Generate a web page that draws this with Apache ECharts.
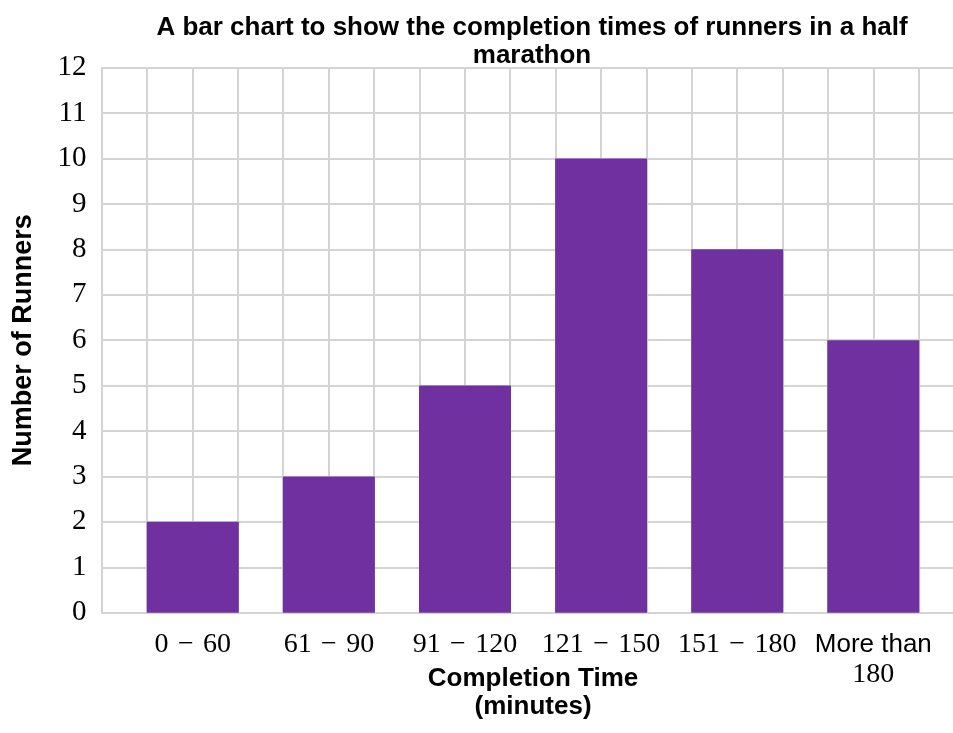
<!DOCTYPE html>
<html>
<head>
<meta charset="utf-8">
<script src="https://cdn.jsdelivr.net/npm/echarts@6/dist/echarts.min.js"></script>
<style>
  html, body { margin: 0; padding: 0; background: #ffffff; }
  #chart { width: 953px; height: 733px; }
</style>
</head>
<body>
<div id="chart"></div>
<script>
// Completion-time groups (minutes) and number of runners in each
const categories = ['0\u2004\u2212\u200460', '61\u2004\u2212\u200490', '91\u2004\u2212\u2004120',
                    '121\u2004\u2212\u2004150', '151\u2004\u2212\u2004180', 'More than 180'];
const runners = [2, 3, 5, 10, 8, 6];
const yTicks = [0, 12, 1]; // min, max, interval

const GRID_TOP = 67.7;
const GRID_H = 545;
const gridColor = '#d4d4d4';
const serif = 'Liberation Serif, Times New Roman, serif';
const sans = 'Liberation Sans, Arial, sans-serif';

const chart = echarts.init(document.getElementById('chart'), null, { renderer: 'canvas' });

chart.setOption({
  backgroundColor: '#ffffff',
  animation: false,
  title: {
    text: 'A bar chart to show the completion times of runners in a half\nmarathon',
    left: 527, top: 9, textAlign: 'center',
    textStyle: { fontFamily: sans, fontWeight: 'bold', fontSize: 26, color: '#000', lineHeight: 28 }
  },
  grid: [
    // square background grid, running past the right edge (20 cells of 45.4px)
    { left: 101.5, top: GRID_TOP, width: 908, height: GRID_H, outerBoundsMode: 'none', containLabel: false },
    // bar grid
    { left: 124.75, top: GRID_TOP, width: 816.6, height: GRID_H, outerBoundsMode: 'none', containLabel: false }
  ],
  xAxis: [
    {
      type: 'value', gridIndex: 0, min: 0, max: 20, interval: 1,
      axisLine: { show: false }, axisTick: { show: false }, axisLabel: { show: false },
      splitLine: { show: true, lineStyle: { color: gridColor, width: 2 } }
    },
    {
      type: 'category', gridIndex: 1, data: categories,
      axisLine: { show: false }, axisTick: { show: false },
      axisLabel: {
        interval: 0,
        margin: 17, color: '#000', fontFamily: serif, fontSize: 28, lineHeight: 30,
        formatter: function (v) {
          if (v === 'More than 180') return '{s|More than}\n{d|180}';
          return v;
        },
        rich: {
          s: { fontFamily: sans, fontSize: 26, color: '#000', lineHeight: 30 },
          d: { fontFamily: serif, fontSize: 28, color: '#000', lineHeight: 30 }
        }
      },
      name: 'Completion Time\n(minutes)',
      nameLocation: 'middle', nameGap: 52, nameMoveOverlap: false,
      nameTextStyle: { fontFamily: sans, fontWeight: 'bold', fontSize: 26, color: '#000', lineHeight: 28 }
    }
  ],
  yAxis: [
    {
      type: 'value', gridIndex: 0, min: yTicks[0], max: yTicks[1], interval: yTicks[2],
      axisLine: { show: true, lineStyle: { color: gridColor, width: 2 } },
      axisTick: { show: false },
      axisLabel: { margin: 15, color: '#000', fontFamily: serif, fontSize: 29, padding: [6, 0, 0, 0] },
      splitLine: { show: true, lineStyle: { color: gridColor, width: 2 } },
      name: 'Number of Runners', nameLocation: 'middle', nameGap: 64, nameRotate: 90,
      nameMoveOverlap: false,
      nameTextStyle: { fontFamily: sans, fontWeight: 'bold', fontSize: 27, color: '#000' }
    },
    {
      type: 'value', gridIndex: 1, min: yTicks[0], max: yTicks[1], interval: yTicks[2],
      axisLine: { show: false }, axisTick: { show: false }, axisLabel: { show: false },
      splitLine: { show: false }
    }
  ],
  series: [
    {
      type: 'bar', xAxisIndex: 1, yAxisIndex: 1, data: runners,
      barWidth: 92,
      itemStyle: { color: '#7030a0' }
    }
  ]
});
</script>
</body>
</html>
